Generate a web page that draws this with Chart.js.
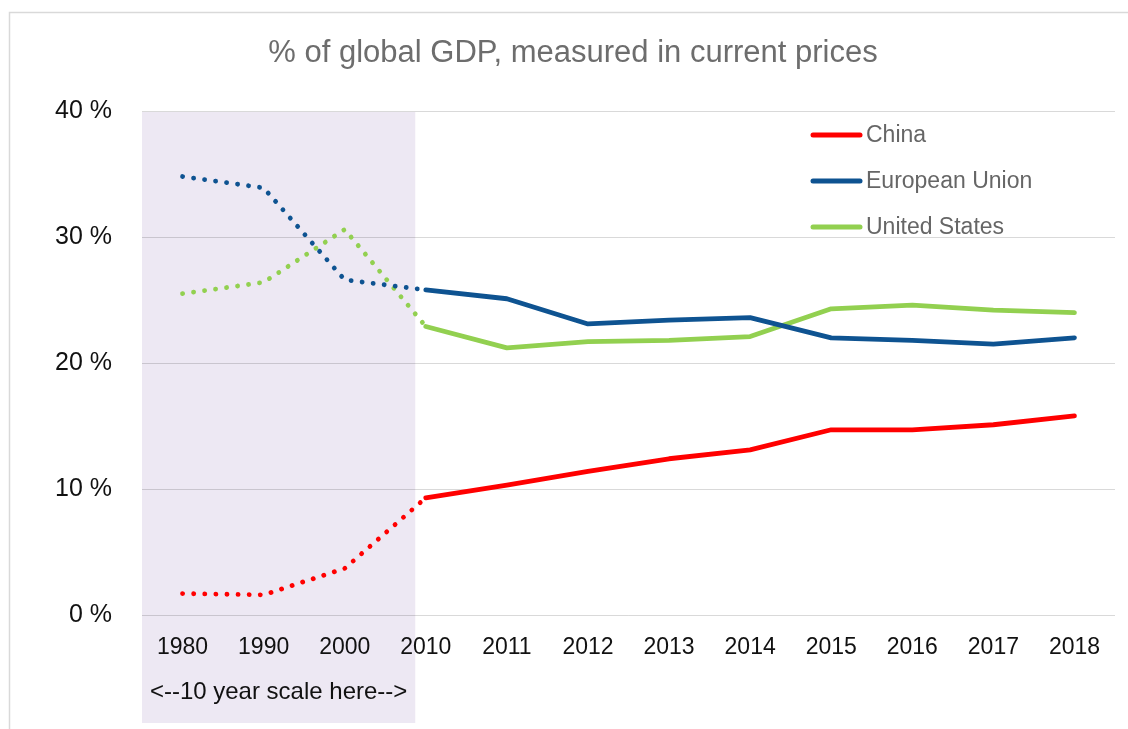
<!DOCTYPE html>
<html><head><meta charset="utf-8">
<script src="https://cdn.jsdelivr.net/npm/chart.js@4/dist/chart.umd.min.js"></script>
<style>html,body{margin:0;padding:0;background:#fff;}#wrap{width:1128px;height:729px;position:relative;}</style>
</head><body><div id="wrap"><canvas id="c"></canvas></div>
<script>
const years = ['1980','1990','2000','2010','2011','2012','2013','2014','2015','2016','2017','2018'];
const china = [1.7, 1.6, 3.7, 9.3, 10.3, 11.4, 12.4, 13.1, 14.7, 14.7, 15.1, 15.8];
const eu    = [34.8, 33.9, 26.6, 25.8, 25.1, 23.1, 23.4, 23.6, 22.0, 21.8, 21.5, 22.0];
const us    = [25.5, 26.4, 30.6, 22.9, 21.2, 21.7, 21.8, 22.1, 24.3, 24.6, 24.2, 24.0];
const seriesNames = ['China', 'European Union', 'United States'];
const seriesColors = ['#ff0000', '#0e5391', '#92d050'];
const yTicks = [0, 10, 20, 30, 40];
const titleText = '% of global GDP, measured in current prices';
const noteText = '<--10 year scale here-->';
const decadePoints = 3; // segments before this index use the 10-year scale (dotted)

const FONT = "'Liberation Sans', Arial, sans-serif";

const dotted = ctx => ctx.p0DataIndex < decadePoints ? [0.1, 11] : undefined;

const decorPlugin = {
  id: 'decor',
  beforeDraw(chart) {
    const {ctx, chartArea, scales} = chart;
    const x = scales.x;
    const step = x.getPixelForValue(1) - x.getPixelForValue(0);
    const left = chartArea.left;
    const right = x.getPixelForValue(decadePoints) - 0.13 * step;
    ctx.save();
    ctx.fillStyle = '#ede8f3';
    ctx.fillRect(left, chartArea.top + 1, right - left, 723 - chartArea.top - 1);
    ctx.strokeStyle = '#d9d9d9';
    ctx.lineWidth = 1.5;
    ctx.beginPath();
    ctx.moveTo(9.5, 729);
    ctx.lineTo(9.5, 12.5);
    ctx.lineTo(1128, 12.5);
    ctx.stroke();
    ctx.restore();
  },
  afterDraw(chart) {
    const {ctx, scales} = chart;
    const x = scales.x;
    const step = x.getPixelForValue(1) - x.getPixelForValue(0);
    const left = chart.chartArea.left;
    const right = x.getPixelForValue(decadePoints) - 0.13 * step;
    ctx.save();
    ctx.fillStyle = '#6d6d6d';
    ctx.font = '31px ' + FONT;
    ctx.textAlign = 'center';
    ctx.textBaseline = 'middle';
    ctx.fillText(titleText, 573, 53);
    ctx.fillStyle = '#111';
    ctx.font = '24px ' + FONT;
    ctx.fillText(noteText, (left + right) / 2, 692);
    ctx.textAlign = 'left';
    ctx.font = '23px ' + FONT;
    const ly = [135, 181, 227];
    seriesNames.forEach((n, i) => {
      ctx.strokeStyle = seriesColors[i];
      ctx.lineWidth = 5;
      ctx.lineCap = 'round';
      ctx.beginPath();
      ctx.moveTo(813, ly[i]);
      ctx.lineTo(860, ly[i]);
      ctx.stroke();
      ctx.fillStyle = '#666';
      ctx.fillText(n, 866, ly[i] + 1);
    });
    ctx.restore();
  }
};

const mk = (label, data, color) => ({
  label, data, borderColor: color, backgroundColor: color,
  borderWidth: 4.8, pointRadius: 0, tension: 0,
  borderCapStyle: 'round', borderJoinStyle: 'round',
  segment: { borderDash: dotted }
});

new Chart(document.getElementById('c'), {
  type: 'line',
  data: {
    labels: years,
    datasets: [
      mk(seriesNames[0], china, seriesColors[0]),
      mk(seriesNames[1], eu, seriesColors[1]),
      mk(seriesNames[2], us, seriesColors[2])
    ]
  },
  options: {
    responsive: true, maintainAspectRatio: false, animation: false,
    layout: { padding: { top: 111, right: 13, bottom: 0, left: 0 } },
    plugins: { legend: { display: false }, title: { display: false }, tooltip: { enabled: false } },
    scales: {
      x: {
        type: 'category', offset: true,
        grid: { display: false, drawTicks: false },
        border: { display: false },
        ticks: { font: { family: FONT, size: 23 }, color: '#111', padding: 19, maxRotation: 0, autoSkip: false },
        afterFit: s => { s.height = 114; }
      },
      y: {
        min: 0, max: 40,
        afterBuildTicks: s => { s.ticks = yTicks.map(v => ({ value: v })); },
        grid: { color: 'rgba(0,0,0,0.15)', lineWidth: 1, drawTicks: false },
        border: { display: false },
        ticks: { font: { family: FONT, size: 25 }, color: '#111', padding: 30, callback: v => v + ' %' },
        afterFit: s => { s.width = 142; }
      }
    }
  },
  plugins: [decorPlugin]
});
</script>
</body></html>
